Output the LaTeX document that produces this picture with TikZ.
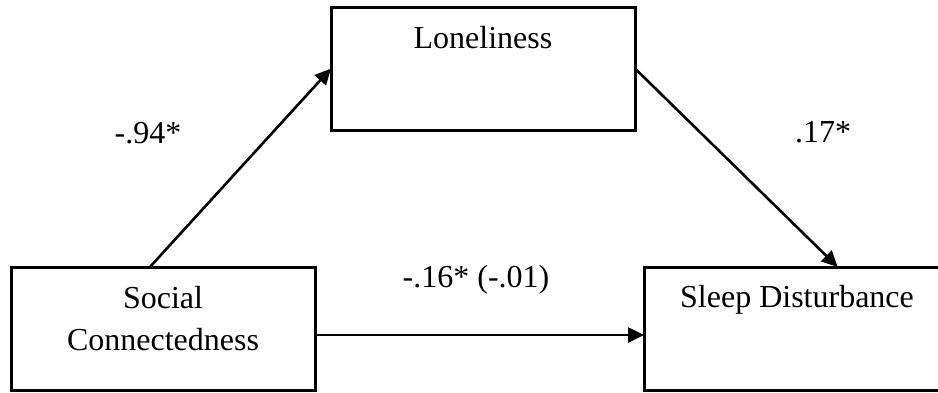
\documentclass[tikz,border=0pt]{standalone}
\usepackage{fontspec}
\setmainfont{Liberation Serif}
\usetikzlibrary{arrows.meta,calc}
\begin{document}
\begin{tikzpicture}[x=1pt,y=-1pt,
  box/.style={draw,line width=3pt,rectangle,minimum height=123pt,inner sep=0pt,outer sep=0pt},
  txt/.style={anchor=base,inner sep=0pt,font=\fontsize{32}{38}\selectfont},
  arr/.style={line width=2.6pt,-{Triangle[length=16pt,width=15pt]}}]
\useasboundingbox (0,0) rectangle (938,392);
\fill[white] (0,0) rectangle (938,392);
\node[box,minimum width=304pt] (L) at (483,68.5) {};
\node[box,minimum width=304pt] (SC) at (163,328.5) {};
\node[box,minimum width=298pt] (SD) at (793,328.5) {};
\node[txt] (tL) at (483,48) {Loneliness};
\node[txt] (tSC1) at (163,308) {Social};
\node[txt] (tSC2) at (163,350) {Connectedness};
\node[txt] (tSD) at (797,307) {Sleep Disturbance};
\node[txt] (a) at (148,143) {-.94*};
\node[txt] (b) at (823,142) {.17*};
\node[txt] (c) at (476,287) {-.16* (-.01)};
\coordinate (h) at (0,335);
\draw[arr] ($(SC.north west)!0.457!(SC.north east)$) -- (L.west);
\draw[arr] (L.east) -- ($(SD.north west)!0.65!(SD.north east)$);
\draw[arr] (SC.east |- h) -- (SD.west |- h);
\end{tikzpicture}
\end{document}
